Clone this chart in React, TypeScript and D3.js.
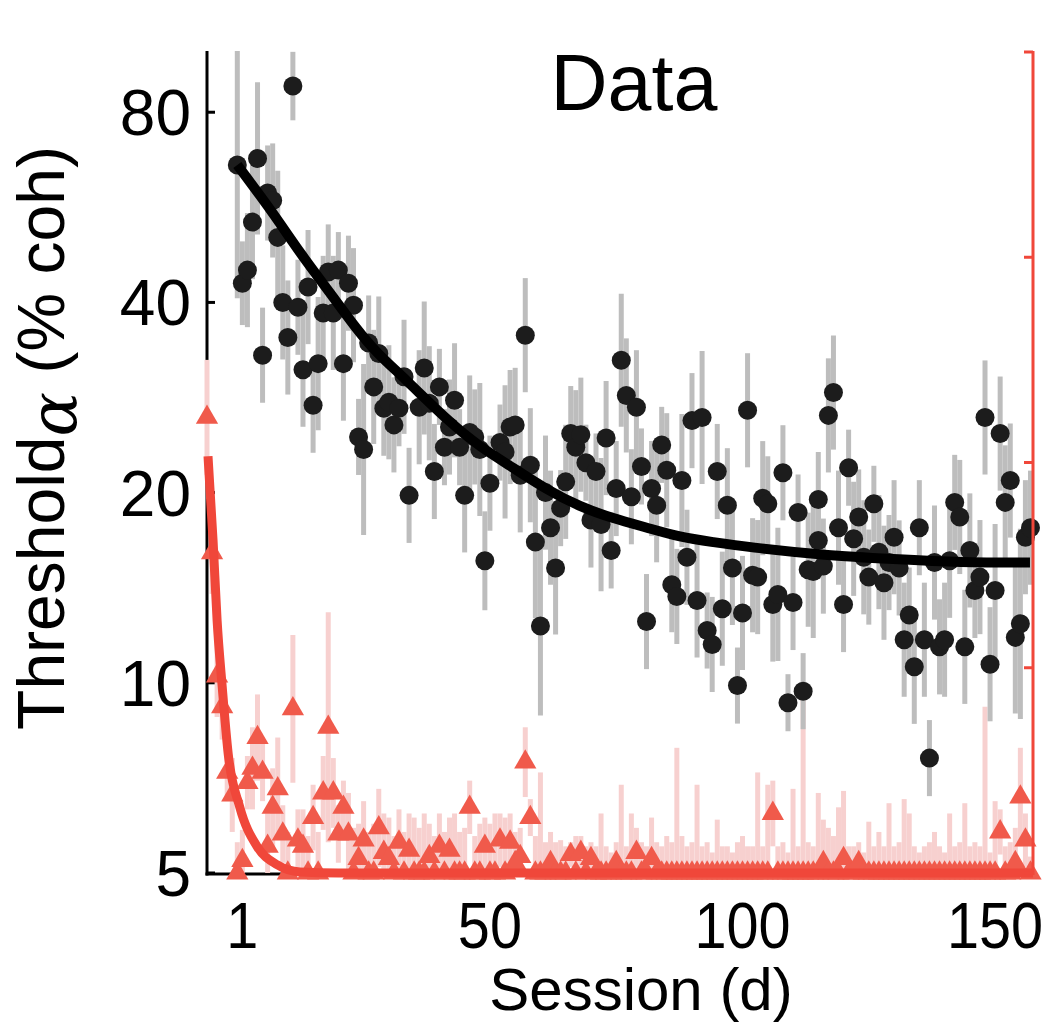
import React from "react";
import * as d3 from "d3";

// ---------- black series: threshold (left, log axis) ----------
const blackSessions = [
  0, 1, 2, 3, 4, 5, 6, 7, 8, 9, 10, 11, 12, 13, 14, 15, 16, 17, 18, 19, 20, 21, 22, 23, 24, 25, 26, 27, 28, 29,
  30, 31, 32, 33, 34, 36, 37, 38, 39, 40, 41, 42, 43, 44, 45, 46, 47, 48, 49, 50, 52, 53, 54, 55, 56, 57, 58, 59,
  60, 61, 62, 63, 64, 65, 66, 67, 68, 69, 70, 71, 72, 73, 74, 75, 76, 77, 78, 79, 80, 81, 82, 83, 84, 85, 86, 87,
  88, 89, 90, 91, 92, 93, 94, 95, 96, 97, 98, 99, 100, 101, 102, 103, 104, 105, 106, 107, 108, 109, 110, 111, 112,
  113, 114, 115, 115, 116, 117, 118, 119, 120, 121, 122, 123, 124, 125, 126, 127, 128, 129, 130, 131, 132, 133,
  134, 135, 136, 137, 138, 139, 140, 141, 142, 143, 144, 145, 146, 147, 148, 149, 150, 151, 152, 153, 154, 155,
  156, 157,
];
const blackThreshold = [
  66.0, 42.9, 45.0, 53.6, 67.6, 33.0, 59.6, 58.0, 50.7, 40.0, 35.2, 88.0, 39.3, 31.3, 42.3, 27.5, 32.0, 38.5, 44.7,
  38.5, 45.0, 32.0, 42.9, 39.6, 24.5, 23.4, 34.5, 29.4, 33.2, 27.2, 27.8, 25.6, 27.2, 30.5, 19.8, 27.3, 31.5, 27.7,
  21.6, 29.4, 23.6, 25.4, 28.0, 23.6, 19.8, 24.9, 24.5, 23.4, 15.6, 20.7, 24.0, 23.2, 25.4, 25.6, 21.3, 35.5, 22.1,
  16.7, 12.3, 20.0, 17.6, 15.2, 18.9, 20.8, 24.8, 23.6, 24.7, 22.3, 18.1, 21.6, 17.8, 24.4, 16.2, 20.3, 32.4, 28.5,
  19.7, 27.3, 22.0, 12.5, 20.3, 19.1, 23.8, 21.7, 14.3, 13.7, 20.9, 15.8, 26.0, 13.5, 26.3, 12.1, 11.5, 21.6, 13.1,
  19.1, 15.2, 9.9, 12.9, 27.0, 14.8, 14.7, 19.6, 19.2, 13.3, 13.8, 21.5, 9.3, 13.4, 18.6, 9.7, 15.1, 15.0, 19.5,
  16.8, 15.3, 26.5, 28.8, 17.6, 13.3, 21.9, 16.9, 18.3, 15.8, 14.7, 19.2, 16.1, 14.4, 15.5, 17.0, 15.2, 11.7, 12.8,
  10.6, 17.6, 11.7, 7.6, 15.5, 11.4, 11.7, 15.6, 19.3, 18.3, 11.4, 16.2, 14.0, 14.7, 26.3, 10.7, 14.0, 24.8, 19.3,
  20.9, 11.8, 12.4, 17.0, 17.6,
];
// half-length of each grey error bar, in log2 units
const blackSpread = [
  0.7, 0.22, 0.3, 0.3, 0.4, 0.25, 0.25, 0.3, 0.35, 0.3, 0.3, 0.18, 0.25, 0.3, 0.3, 0.25, 0.35, 0.3, 0.25, 0.3, 0.2,
  0.3, 0.25, 0.3, 0.2, 0.45, 0.25, 0.3, 0.3, 0.25, 0.3, 0.25, 0.2, 0.3, 0.25, 0.3, 0.35, 0.3, 0.25, 0.2, 0.2, 0.25,
  0.3, 0.2, 0.3, 0.3, 0.25, 0.35, 0.26, 0.25, 0.2, 0.35, 0.3, 0.3, 0.3, 0.3, 0.3, 0.4, 0.47, 0.3, 0.3, 0.35, 0.2,
  0.3, 0.25, 0.3, 0.3, 0.2, 0.25, 0.2, 0.35, 0.3, 0.2, 0.25, 0.35, 0.3, 0.25, 0.3, 0.2, 0.25, 0.25, 0.3, 0.2, 0.3,
  0.25, 0.25, 0.35, 0.25, 0.25, 0.3, 0.35, 0.2, 0.25, 0.25, 0.3, 0.3, 0.3, 0.2, 0.3, 0.3, 0.3, 0.3, 0.3, 0.25, 0.3,
  0.35, 0.25, 0.15, 0.25, 0.2, 0.2, 0.3, 0.35, 0.25, 0.2, 0.25, 0.3, 0.3, 0.3, 0.25, 0.2, 0.3, 0.25, 0.3, 0.25, 0.2,
  0.3, 0.3, 0.25, 0.3, 0.25, 0.3, 0.25, 0.3, 0.25, 0.3, 0.2, 0.3, 0.25, 0.3, 0.3, 0.25, 0.3, 0.3, 0.3, 0.25, 0.3,
  0.3, 0.3, 0.35, 0.3, 0.3, 0.3, 0.4, 0.5, 0.3, 0.3,
];
const blackFitSessions = [0, 7.1, 12.4, 18.4, 23.7, 27.7, 32.8, 42.1, 48.1, 54.6, 61.3, 67.8, 74.4, 81.1, 87.6, 94.2, 100.9, 116.7, 129.8, 143.1, 156.9];
const blackFitValues = [66, 55.4, 47.9, 41.4, 36.2, 33.2, 30.5, 25.8, 23.6, 21.9, 20.2, 19.0, 18.2, 17.6, 17.0, 16.7, 16.4, 15.9, 15.7, 15.5, 15.5];

// ---------- red series (right, linear axis), sessions -6 .. 157 ----------
const redSessions = [
  -6, -5, -4, -3, -2, -1, 0, 1, 2, 3,
  4, 5, 6, 7, 8, 9, 10, 11, 12, 13,
  14, 15, 16, 17, 18, 19, 20, 21, 22, 23,
  24, 25, 26, 27, 28, 29, 30, 31, 32, 33,
  34, 35, 36, 37, 38, 39, 40, 41, 42, 43,
  44, 45, 46, 47, 48, 49, 50, 51, 52, 53,
  54, 55, 56, 57, 58, 59, 60, 61, 62, 63,
  64, 65, 66, 67, 68, 69, 70, 71, 72, 73,
  74, 75, 76, 77, 78, 79, 80, 81, 82, 83,
  84, 85, 86, 87, 88, 89, 90, 91, 92, 93,
  94, 95, 96, 97, 98, 99, 100, 101, 102, 103,
  104, 105, 106, 107, 108, 109, 110, 111, 112, 113,
  114, 115, 116, 117, 118, 119, 120, 121, 122, 123,
  124, 125, 126, 127, 128, 129, 130, 131, 132, 133,
  134, 135, 136, 137, 138, 139, 140, 141, 142, 143,
  144, 145, 146, 147, 148, 149, 150, 151, 152, 153,
  154, 155, 156, 157,
];
const redValues = [
  22.2, 15.6, 9.6, 8.1, 4.9, 3.8, 0, 0.6, 4.4, 5.1,
  6.6, 4.9, 1.3, 3.2, 4.1, 1.9, 0, 8.0, 1.6, 1.3,
  0, 2.7, 0, 3.9, 7.1, 3.9, 1.9, 3.2, 1.9, 0,
  0.7, 1.6, 0, 0, 2.2, 1.0, 0.7, 0, 1.5, 0,
  1.1, 0, 0, 0, 0.8, 0, 1.3, 0, 1.1, 0,
  0, 0, 3.2, 0, 0, 1.3, 0, 0, 1.6, 0,
  1.5, 0.5, 0.8, 5.4, 2.7, 0, 0, 0, 0.5, 0,
  0, 0, 0.9, 0, 1.0, 0, 0.7, 0, 0, 0,
  0, 0.5, 0, 0, 0, 1.0, 0, 0, 0.7, 0,
  0, 0, 0, 0, 0, 0, 0, 0, 0, 0,
  0, 0, 0, 0, 0, 0, 0, 0, 0, 0,
  0, 0, 2.9, 0, 0, 0, 0, 0, 0, 0,
  0, 0, 0.5, 0, 0, 0, 0.7, 0, 0, 0.5,
  0, 0, 0, 0, 0, 0, 0, 0, 0, 0,
  0, 0, 0, 0, 0, 0, 0, 0, 0, 0,
  0, 0, 0, 0, 0, 0, 0, 2.0, 0, 0,
  0.5, 3.7, 1.6, 0,
];
const redErrors = [
  2.8, 2.0, 2.0, 1.6, 1.4, 1.8, 1.5, 1.5, 1.3, 2.0,
  2.1, 1.4, 1.6, 1.9, 2.5, 1.4, 2.0, 3.6, 1.5, 1.8,
  1.8, 1.6, 2.0, 1.8, 5.6, 1.7, 1.4, 1.3, 2.0, 2.2,
  1.7, 1.9, 2.0, 2.4, 1.9, 1.9, 2.0, 1.8, 1.6, 2.0,
  1.8, 2.7, 2.2, 2.9, 1.6, 1.8, 1.6, 2.0, 1.6, 2.9,
  2.0, 2.2, 1.3, 1.8, 2.4, 1.4, 2.4, 2.9, 1.3, 2.7,
  1.4, 1.5, 1.4, 1.7, 0.9, 1.8, 4.9, 1.5, 1.5, 1.5,
  1.6, 1.3, 0.6, 1.8, 0.8, 1.3, 0.8, 1.3, 2.9, 1.3,
  1.0, 1.0, 4.3, 1.3, 2.9, 1.2, 1.5, 1.3, 2.0, 1.5,
  1.3, 1.8, 1.5, 6.1, 1.8, 1.3, 1.5, 4.3, 1.3, 1.5,
  1.0, 2.6, 1.3, 1.3, 1.0, 1.5, 1.8, 1.3, 1.3, 4.9,
  1.3, 4.3, 1.6, 1.3, 1.5, 1.0, 4.1, 1.3, 9.1, 1.5,
  1.3, 3.9, 2.1, 2.2, 1.8, 3.2, 3.3, 1.3, 1.3, 1.0,
  1.0, 2.5, 1.3, 2.0, 1.3, 3.4, 1.3, 1.5, 3.6, 2.9,
  1.3, 1.0, 1.3, 1.5, 2.0, 1.3, 1.0, 2.9, 1.3, 1.5,
  3.4, 1.3, 1.5, 1.3, 8.1, 1.0, 3.5, 1.1, 1.3, 1.5,
  1.7, 2.4, 1.3, 0.8,
];
const redFitSessions = [-5.8, -4.8, -4.0, -3.0, -1.8, 0.5, 3.9, 7.9, 12.4, 20, 157.5];
const redFitValues = [20.3, 16.2, 12.3, 9.1, 5.8, 3.2, 1.3, 0.4, 0.05, 0, 0];

// ---------- axes ----------
const xTickValues = [1, 50, 100, 150];
const yTickValues = [5, 10, 20, 40, 80];
const rightTickValues = [0, 10, 20, 30, 40];

const FONT = "'Liberation Sans', Arial, Helvetica, sans-serif";
const RED = "#f0473a";
const TRI = "#f05a4b";
const PINK = "#f7d0cf";
const GREY = "#bdbdbd";
const DOT = "#1c1c1c";

export default function App() {
  const x = d3.scaleLinear().domain([-6, 157.5]).range([207, 1033]);
  const y = d3.scaleLog().domain([5, 100]).range([873, 51]);
  const yR = d3.scaleLinear().domain([0, 40]).range([873, 52]);

  const clampL = (v: number) => Math.max(5, Math.min(100, v));
  const clampR = (v: number) => Math.max(0, Math.min(40, v));

  const n = Math.min(blackSessions.length, blackThreshold.length);
  const black = blackSessions
    .slice(0, n)
    .map((s, i) => ({ s, v: blackThreshold[i], e: blackSpread[i] ?? 0.25 }));
  const m = Math.min(redSessions.length, redValues.length);
  const red = redSessions.slice(0, m).map((s, i) => ({ s, v: redValues[i], e: redErrors[i] ?? 1.3 }));

  const blackFit = d3
    .line<number>()
    .x((_, i) => x(blackFitSessions[i]))
    .y((d) => y(d))
    .curve(d3.curveBasis)(blackFitValues);
  const redFit = d3
    .line<number>()
    .x((_, i) => x(redFitSessions[i]))
    .y((d) => yR(d))
    .curve(d3.curveMonotoneX)(redFitValues);

  const tri = d3.symbol(d3.symbolTriangle, 215)();

  return (
    <svg
      width={1053}
      height={1025}
      style={{ position: "absolute", left: 0, top: 0, background: "#fff" }}
      fontFamily={FONT}
    >
      {/* axes lines */}
      <line x1={207} x2={207} y1={51} y2={875.5} stroke="#000" strokeWidth={3} />
      <line x1={205.5} x2={1033} y1={874} y2={874} stroke="#000" strokeWidth={3} />
      {yTickValues.map((t) => (
        <line key={"yt" + t} x1={207} x2={215} y1={y(t)} y2={y(t)} stroke="#000" strokeWidth={3} />
      ))}
      {xTickValues.map((t) => (
        <line key={"xt" + t} x1={x(t)} x2={x(t)} y1={874} y2={866} stroke="#000" strokeWidth={3} />
      ))}

      {/* pink error bars (red series) */}
      {red.map((d, i) => (
        <line
          key={"pb" + i}
          x1={x(d.s)}
          x2={x(d.s)}
          y1={yR(clampR(d.v - d.e))}
          y2={yR(clampR(d.v + d.e))}
          stroke={PINK}
          strokeWidth={5}
        />
      ))}
      {/* grey error bars (black series) */}
      {black.map((d, i) => (
        <line
          key={"gb" + i}
          x1={x(d.s)}
          x2={x(d.s)}
          y1={y(clampL(d.v / Math.pow(2, d.e)))}
          y2={y(clampL(d.v * Math.pow(2, d.e)))}
          stroke={GREY}
          strokeWidth={5}
        />
      ))}
      {/* red triangles */}
      {red.map((d, i) => (
        <path key={"tr" + i} d={tri || ""} transform={`translate(${x(d.s)},${yR(d.v)})`} fill={TRI} />
      ))}
      {/* black dots */}
      {black.map((d, i) => (
        <circle key={"bd" + i} cx={x(d.s)} cy={y(d.v)} r={9.5} fill={DOT} />
      ))}
      {/* fits */}
      <path d={blackFit || ""} fill="none" stroke="#000" strokeWidth={10} />
      <path d={redFit || ""} fill="none" stroke={RED} strokeWidth={9} />

      {/* right red axis */}
      <line x1={1033} x2={1033} y1={51} y2={875} stroke={RED} strokeWidth={3} />
      {rightTickValues.map((t) => (
        <line key={"rt" + t} x1={1033} x2={1024} y1={yR(t)} y2={yR(t)} stroke={RED} strokeWidth={3} />
      ))}

      {/* tick labels */}
      {yTickValues.map((t) => (
        <text key={"yl" + t} x={191} y={y(t) + 23} textAnchor="end" fontSize={64} fill="#000">
          {String(t)}
        </text>
      ))}
      {xTickValues.map((t) => (
        <text
          key={"xl" + t}
          x={x(t)}
          y={948}
          textAnchor="middle"
          fontSize={64}
          fill="#000"
          transform={`translate(${x(t)},0) scale(0.9,1) translate(${-x(t)},0)`}
        >
          {String(t)}
        </text>
      ))}

      {/* titles */}
      <text x={634} y={110} textAnchor="middle" fontSize={79} fill="#000">
        Data
      </text>
      <text x={641} y={1010} textAnchor="middle" fontSize={60} fill="#000">
        Session (d)
      </text>
      <text transform="translate(64,438) rotate(-90)" textAnchor="middle" fontSize={66} fill="#000">
        Threshold
        <tspan fontFamily="'DejaVu Serif', serif" fontStyle="italic" dy={12}>
          α
        </tspan>
        <tspan dy={-12}> (% coh)</tspan>
      </text>
    </svg>
  );
}
